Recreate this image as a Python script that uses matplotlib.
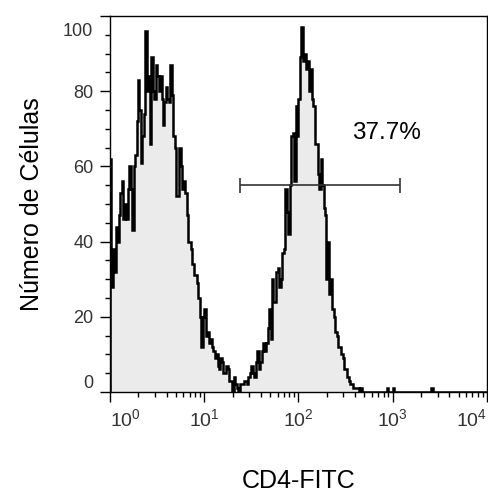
import numpy as np
import matplotlib.pyplot as plt
import matplotlib.transforms as mtransforms
from matplotlib.ticker import FixedLocator, MultipleLocator, LogLocator, NullFormatter

plt.rcParams['font.family'] = ['Liberation Sans', 'DejaVu Sans']
plt.rcParams['mathtext.fontset'] = 'custom'
plt.rcParams['mathtext.rm'] = 'Liberation Sans'

# histogram counts, 256 log channels over 4 decades
counts = [62, 28, 38, 32, 44, 40, 47, 53, 56, 46, 50, 46, 54, 60, 54, 43,
          60, 63, 72, 83, 75, 61, 68, 74, 96, 80, 84, 66, 89, 80, 78, 87,
          84, 80, 84, 78, 71, 77, 81, 78, 77, 87, 79, 68, 65, 52, 52, 65,
          60, 54, 56, 53, 47, 40, 40, 38, 34, 31, 31, 29, 25, 20, 12, 20,
          22, 15, 16, 13, 14, 12, 11, 9, 10, 7, 6, 9, 8, 5, 5, 7,
          6, 3, 3, 0, 4, 2, 1, 0, 2, 2, 2, 3, 3, 2, 4, 5,
          7, 5, 4, 8, 11, 6, 8, 11, 13, 11, 13, 17, 22, 14, 30, 24,
          24, 32, 33, 28, 30, 37, 38, 54, 48, 42, 55, 68, 69, 56, 76, 68,
          78, 89, 97, 88, 90, 86, 88, 80, 86, 78, 76, 66, 66, 58, 54, 62,
          55, 49, 47, 30, 40, 26, 30, 22, 20, 16, 15, 12, 12, 10, 9, 6,
          6, 4, 3, 2, 2, 1, 1, 1, 1, 0, 1, 0, 0, 0, 0, 0,
          0, 0, 0, 0, 0, 0, 0, 0, 0, 0, 0, 0, 1, 0, 0, 0,
          1, 0, 0, 0, 0, 0, 0, 0, 0, 0, 0, 0, 0, 0, 0, 0,
          0, 0, 0, 0, 0, 0, 0, 0, 0, 0, 1, 0, 0, 0, 0, 0,
          0, 0, 0, 0, 0, 0, 0, 0, 0, 0, 0, 0, 0, 0, 0, 0,
          0, 0, 0, 0, 0, 0, 0, 0, 0, 0, 0, 0, 0, 0, 0, 0]
decade_min, decade_max = 0, 4

gate_lo, gate_hi, gate_y = 24, 1200, 55
gate_label = '37.7%'
gate_label_x, gate_label_y = 850, 69

y_ticks = [0, 20, 40, 60, 80, 100]
x_decades = [0, 1, 2, 3, 4]

edges = np.logspace(decade_min, decade_max, len(counts) + 1)

fig = plt.figure(figsize=(4.89, 4.94), dpi=100)
ax = fig.add_axes([110 / 489, 102 / 494, 377 / 489, 376 / 494])

ax.stairs(counts, edges, fill=True, color='#ebebeb')
ax.stairs(counts, edges, color='black', lw=1.8)

ax.set_xscale('log')
ax.set_xlim(10 ** decade_min, 10 ** decade_max)
ax.set_ylim(0, 100)

# gate marker
ax.hlines(gate_y, gate_lo, gate_hi, color='#333333', lw=1.2)
ax.vlines([gate_lo, gate_hi], gate_y - 2, gate_y + 2, color='#333333', lw=1.2)
ax.text(gate_label_x, gate_label_y, gate_label, ha='center', va='center', fontsize=17.5)

# ticks
ax.xaxis.set_major_locator(FixedLocator([10.0 ** k for k in x_decades]))
ax.xaxis.set_minor_locator(LogLocator(base=10, subs=range(2, 10)))
ax.xaxis.set_minor_formatter(NullFormatter())
ax.set_xticklabels([r'$\mathregular{10^{%d}}$' % k for k in x_decades])
ax.yaxis.set_major_locator(FixedLocator(y_ticks))
ax.yaxis.set_minor_locator(MultipleLocator(5))
ax.set_yticklabels([str(v) for v in y_ticks])

ax.tick_params(which='major', length=7, width=1, direction='out', labelsize=13,
               labelcolor='#333333')
ax.tick_params(axis='x', which='major', pad=5, labelsize=14)
ax.tick_params(axis='y', which='major', pad=5)
ax.tick_params(which='minor', length=3.5, width=1, direction='out')

xl = ax.get_xticklabels()
xl[0].set_ha('left')
xl[-1].set_ha('right')
yl = ax.get_yticklabels()
yl[0].set_va('bottom')
yl[-1].set_va('top')
yl[-1].set_transform(yl[-1].get_transform() +
                     mtransforms.ScaledTranslation(0, -5 / 72, fig.dpi_scale_trans))

for s in ax.spines.values():
    s.set_linewidth(1)
    s.set_color('black')

ax.set_xlabel('CD4-FITC', fontsize=18, va='top')
ax.set_ylabel('Número de Células', fontsize=18)
ax.xaxis.set_label_coords(0.5, -0.205)
ax.yaxis.set_label_coords(-0.175, 0.5)

fig.savefig('out.png', dpi=100)
